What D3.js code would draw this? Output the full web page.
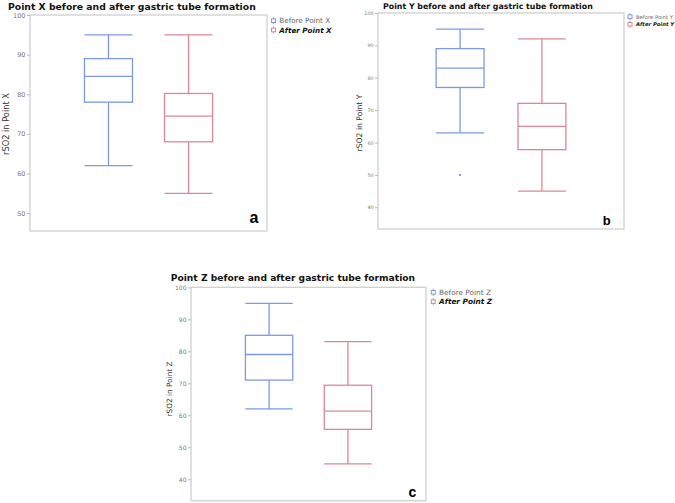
<!DOCTYPE html>
<html><head><meta charset="utf-8">
<script src="https://cdn.jsdelivr.net/npm/d3@7"></script>
<style>body{margin:0;background:#fff}svg{display:block}</style>
</head><body>
<svg id="chart" width="675" height="503"></svg>
<script>
// ---------- DATA ----------
const groups = ["Before", "After"];
const pointNames = ["X", "Y", "Z"];
const panelLetters = ["a", "b", "c"];
// each box: [lower whisker, Q1, median, Q3, upper whisker]
const statsPointX = [[62, 78, 84.5, 89, 95], [55, 68, 74.5, 80.2, 95]];
const statsPointY = [[63, 77, 83, 89, 95], [45, 57.8, 65, 72.1, 92]];
const statsPointZ = [[62, 71, 79, 85, 95], [44.8, 55.6, 61.3, 69.4, 83]];
const outliersPointX = [[], []];
const outliersPointY = [[50], []];
const outliersPointZ = [[], []];
const ticksPointX = [50, 60, 70, 80, 90, 100];
const ticksPointY = [40, 50, 60, 70, 80, 90, 100];
const ticksPointZ = [40, 50, 60, 70, 80, 90, 100];
const domainPointX = [45.5, 100];
const domainPointY = [33.3, 100];
const domainPointZ = [33.3, 100];

// ---------- LAYOUT ----------
const colors = ["#7b9ae3", "#dc8796"];
const layouts = [
  {x0:30, x1:267, y0:15, y1:231, tickFont:6.5,
   ylab:{x:8.5, y:124, w:62}, title:{x:8, y:10, w:248},
   leg:{ix:273.5, tx:279.3, y:[20.7, 30], w:51},
   letter:{x:254, y:223, size:16}, po:0.68, pi:0.4},
  {x0:378, x1:624, y0:13, y1:229, tickFont:4.8,
   ylab:{x:362.3, y:123, w:57}, title:{x:383, y:9, w:210},
   leg:{ix:630, tx:636, y:[16.7, 24.3], w:37},
   letter:{x:606.7, y:225, size:13}, po:0.71, pi:0.415},
  {x0:191, x1:426, y0:287.3, y1:500.7, tickFont:6,
   ylab:{x:171.7, y:389, w:55}, title:{x:170.7, y:281, w:245},
   leg:{ix:433.3, tx:439, y:[292.3, 301.7], w:52},
   letter:{x:412.3, y:497.3, size:14}, po:0.69, pi:0.4}
];
const allStats = [statsPointX, statsPointY, statsPointZ];
const allOutliers = [outliersPointX, outliersPointY, outliersPointZ];
const allTicks = [ticksPointX, ticksPointY, ticksPointZ];
const allDomains = [domainPointX, domainPointY, domainPointZ];

const svg = d3.select("#chart");
const FONT = "'DejaVu Sans', Verdana, sans-serif";

function fit(sel, target, size) {
  sel.attr("font-size", size);
  const w = sel.node().getComputedTextLength();
  sel.attr("font-size", size * target / w);
}

pointNames.forEach((p, i) => {
  const L = layouts[i];
  const g = svg.append("g");
  const y = d3.scaleLinear().domain(allDomains[i]).range([L.y1, L.y0]);
  const x = d3.scaleBand().domain(groups).range([L.x0, L.x1])
    .paddingInner(L.pi).paddingOuter(L.po);

  // frame
  g.append("rect").attr("x", L.x0).attr("y", L.y0)
    .attr("width", L.x1 - L.x0).attr("height", L.y1 - L.y0)
    .attr("fill", "none").attr("stroke", "#cfcfcf").attr("stroke-width", 1.3);

  // axis
  const ax = g.append("g").attr("transform", `translate(${L.x0},0)`)
    .call(d3.axisLeft(y).tickValues(allTicks[i]).tickSize(3).tickPadding(1.5));
  ax.select(".domain").remove();
  ax.selectAll(".tick line").attr("stroke", "#bbb");
  ax.selectAll(".tick text").attr("fill", "#777").attr("font-size", L.tickFont)
    .attr("font-family", FONT);

  // boxes
  allStats[i].forEach((s, k) => {
    const c = colors[k];
    const x0 = x(groups[k]), bw = x.bandwidth(), cx = x0 + bw / 2;
    const bg = g.append("g").attr("stroke", c).attr("stroke-width", 1.3).attr("fill", "none");
    bg.append("line").attr("x1", cx).attr("x2", cx).attr("y1", y(s[4])).attr("y2", y(s[3]));
    bg.append("line").attr("x1", cx).attr("x2", cx).attr("y1", y(s[1])).attr("y2", y(s[0]));
    bg.append("line").attr("x1", x0).attr("x2", x0 + bw).attr("y1", y(s[4])).attr("y2", y(s[4]));
    bg.append("line").attr("x1", x0).attr("x2", x0 + bw).attr("y1", y(s[0])).attr("y2", y(s[0]));
    bg.append("rect").attr("x", x0).attr("y", y(s[3])).attr("width", bw)
      .attr("height", y(s[1]) - y(s[3])).attr("fill", "#fff");
    bg.append("line").attr("x1", x0).attr("x2", x0 + bw).attr("y1", y(s[2])).attr("y2", y(s[2]));
    allOutliers[i][k].forEach(o => {
      g.append("rect").attr("x", cx - 1).attr("y", y(o) - 1).attr("width", 2).attr("height", 2)
        .attr("fill", c);
    });
  });

  // title
  const t = g.append("text").attr("x", L.title.x).attr("y", L.title.y)
    .attr("font-family", FONT).attr("font-weight", "bold").attr("fill", "#111")
    .text(`Point ${p} before and after gastric tube formation`);
  fit(t, L.title.w, 11);

  // y label
  const yl = g.append("text")
    .attr("transform", `translate(${L.ylab.x},${L.ylab.y}) rotate(-90)`)
    .attr("text-anchor", "middle").attr("font-family", FONT).attr("fill", "#333")
    .text(`rSO2 in Point ${p}`);
  fit(yl, L.ylab.w, 10);

  // legend
  groups.forEach((gr, k) => {
    const ly = L.leg.y[k];
    const ic = g.append("g").attr("stroke", colors[k]).attr("stroke-width", 1);
    ic.append("line").attr("x1", L.leg.ix).attr("x2", L.leg.ix).attr("y1", ly - 3.5).attr("y2", ly + 3.5);
    ic.append("rect").attr("x", L.leg.ix - 2).attr("y", ly - 1.8).attr("width", 4).attr("height", 3.6)
      .attr("fill", "#fff");
    const lt = g.append("text").attr("x", L.leg.tx).attr("y", ly)
      .attr("dominant-baseline", "central").attr("font-family", FONT)
      .attr("fill", k === 0 ? "#666" : "#111")
      .attr("font-weight", k === 0 ? "normal" : "bold")
      .attr("font-style", k === 0 ? "normal" : "italic")
      .text(`${gr} Point ${p}`);
    if (k === 0) {
      fit(lt, L.leg.w, 8);
    } else {
      lt.attr("font-size", g.select("text:last-of-type").attr("font-size"));
    }
  });
  // keep legend font sizes consistent
  const legTexts = g.selectAll("text").filter(function(){ return d3.select(this).attr("dominant-baseline") === "central"; });
  const fs = d3.select(legTexts.nodes()[0]).attr("font-size");
  legTexts.attr("font-size", fs);

  // panel letter
  g.append("text").attr("x", L.letter.x).attr("y", L.letter.y).attr("text-anchor", "middle")
    .attr("font-family", "'Liberation Sans', Arial, sans-serif").attr("font-weight", "bold")
    .attr("font-size", L.letter.size).attr("fill", "#000").text(panelLetters[i]);
});
</script>
</body></html>
